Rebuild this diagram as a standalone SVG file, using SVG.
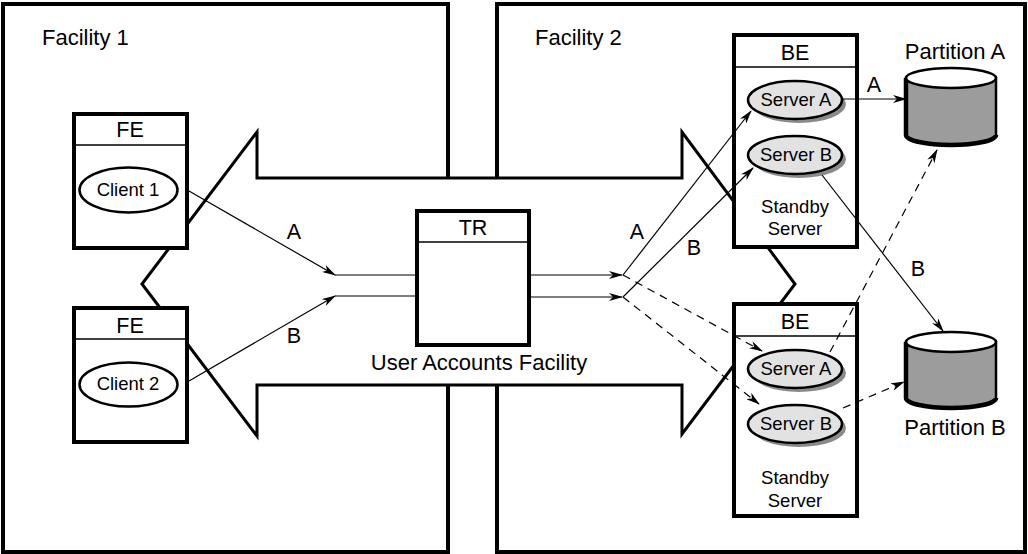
<svg xmlns="http://www.w3.org/2000/svg" width="1028" height="554" viewBox="0 0 1028 554">
<defs>
<marker id="ah" viewBox="0 0 14 8" refX="13" refY="4" markerWidth="14" markerHeight="8" markerUnits="userSpaceOnUse" orient="auto">
<path d="M0,0 L14,4 L0,8 L4,4 z" fill="#000"/>
</marker>
<style>
text{font-family:"Liberation Sans",Arial,sans-serif;fill:#000}
.wall{fill:none;stroke:#000;stroke-width:4}
.box{fill:#fff;stroke:#000;stroke-width:4}
.hdr{stroke:#000;stroke-width:1.3}
.big{font-size:22px}
.lbl{font-size:21.5px;text-anchor:middle}
.mid{font-size:18.5px;text-anchor:middle}
.client{fill:#fff;stroke:#000;stroke-width:2.5}
.srv{fill:#e2e2e2;stroke:#000;stroke-width:2.5}
.shd{fill:#8a8a8a}
.con{fill:none;stroke:#000;stroke-width:1.2}
.arr{marker-end:url(#ah)}
.dash{stroke-dasharray:8,6}
.cylb{fill:#9c9c9c;stroke:#000;stroke-width:2.5}
.cylt{fill:#fff;stroke:#000;stroke-width:2.5}
</style>
</defs>

<g id="facility1">
<path class="wall" d="M448,178 V4 H3 V552 H448 V385"/>
<text class="big" x="42" y="45">Facility 1</text>
</g>
<g id="facility2">
<path class="wall" d="M497,178 V4 H1025 V552 H497 V385"/>
<text class="big" x="535" y="45">Facility 2</text>
</g>

<g id="user-accounts-facility">
<polygon points="142,284 257,132 257,178 682,178 682,132 795,284 682,434 682,385 257,385 257,436" fill="none" stroke="#000" stroke-width="3" stroke-linejoin="miter"/>
<text class="big" x="479" y="370" text-anchor="middle">User Accounts Facility</text>
</g>

<g id="fe1">
<rect class="box" x="74" y="114" width="113" height="134"/>
<line class="hdr" x1="74" y1="145" x2="187" y2="145"/>
<text class="lbl" x="130" y="137">FE</text>
<ellipse class="client" cx="128.5" cy="190" rx="49" ry="22.5"/>
<text class="mid" x="128" y="196">Client 1</text>
</g>

<g id="fe2">
<rect class="box" x="74" y="308" width="113" height="134"/>
<line class="hdr" x1="74" y1="339" x2="187" y2="339"/>
<text class="lbl" x="130" y="333">FE</text>
<ellipse class="client" cx="128.5" cy="384.5" rx="49" ry="22"/>
<text class="mid" x="128" y="390">Client 2</text>
</g>

<g id="tr">
<rect class="box" x="417" y="211" width="112" height="134"/>
<line class="hdr" x1="417" y1="242" x2="529" y2="242"/>
<text class="lbl" x="473" y="235">TR</text>
</g>

<g id="be1">
<rect class="box" x="734" y="35" width="123" height="212"/>
<line class="hdr" x1="734" y1="67" x2="857" y2="67"/>
<text class="lbl" x="795" y="60">BE</text>
<ellipse class="shd" cx="799" cy="104" rx="47" ry="19"/>
<ellipse class="srv" cx="795" cy="100" rx="47" ry="19"/>
<text class="mid" x="796" y="106">Server A</text>
<ellipse class="shd" cx="799" cy="159" rx="47" ry="19"/>
<ellipse class="srv" cx="795" cy="155" rx="47" ry="19"/>
<text class="mid" x="796" y="161">Server B</text>
<text class="mid" x="795" y="213">Standby</text>
<text class="mid" x="795" y="235">Server</text>
</g>

<g id="be2">
<rect class="box" x="734" y="304" width="123" height="212"/>
<line class="hdr" x1="734" y1="336" x2="857" y2="336"/>
<text class="lbl" x="795" y="329">BE</text>
<ellipse class="shd" cx="799" cy="373" rx="47" ry="19"/>
<ellipse class="srv" cx="795" cy="369" rx="47" ry="19"/>
<text class="mid" x="796" y="375">Server A</text>
<ellipse class="shd" cx="799" cy="428" rx="47" ry="19"/>
<ellipse class="srv" cx="795" cy="424" rx="47" ry="19"/>
<text class="mid" x="796" y="430">Server B</text>
<text class="mid" x="795" y="484">Standby</text>
<text class="mid" x="795" y="507">Server</text>
</g>

<g id="partitionA">
<path class="cylb" d="M906,78 V135 A45,10 0 0 0 996,135 V78 z"/>
<path d="M906,78 V135 A45,10 0 0 0 996,135" fill="none" stroke="#000" stroke-width="4.5"/>
<ellipse class="cylt" cx="951" cy="78" rx="45" ry="10"/>
<text class="big" x="955" y="59" text-anchor="middle">Partition A</text>
</g>

<g id="partitionB">
<path class="cylb" d="M906,342 V398 A45,10 0 0 0 996,398 V342 z"/>
<path d="M906,342 V398 A45,10 0 0 0 996,398" fill="none" stroke="#000" stroke-width="4.5"/>
<ellipse class="cylt" cx="951" cy="342" rx="45" ry="10"/>
<text class="big" x="955" y="435" text-anchor="middle">Partition B</text>
</g>

<g id="connectors">
<path class="con arr" d="M189,191 L335,275"/>
<path class="con" d="M335,275 H417"/>
<path class="con arr" d="M189,381 L335,296"/>
<path class="con" d="M335,296 H417"/>
<path class="con arr" d="M529,275 H622"/>
<path class="con arr" d="M529,297 H622"/>
<path class="con arr" d="M623,275 L751,111"/>
<path class="con arr" d="M623,297 L753,168"/>
<path class="con dash arr" d="M623,275 L762,351"/>
<path class="con dash arr" d="M623,297 L759,404"/>
<path class="con arr" d="M843,99 H906"/>
<path class="con arr" d="M822,175 L943,331"/>
<path class="con dash arr" d="M830,352 L937,150"/>
<path class="con dash arr" d="M843,408 L904,382"/>
<text class="lbl" x="294" y="239">A</text>
<text class="lbl" x="294" y="343">B</text>
<text class="lbl" x="637" y="239">A</text>
<text class="lbl" x="694" y="255">B</text>
<text class="lbl" x="874" y="92">A</text>
<text class="lbl" x="918" y="276">B</text>
</g>
</svg>
